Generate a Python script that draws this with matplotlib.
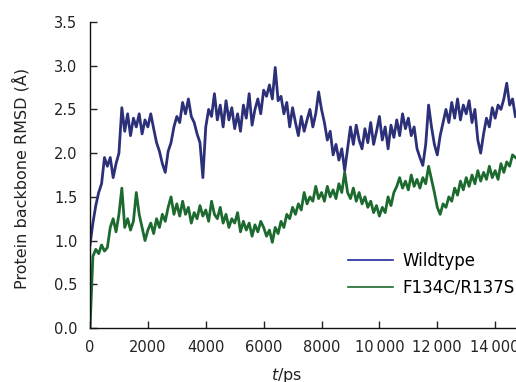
import numpy as np
import matplotlib
matplotlib.use("Agg")
import matplotlib.pyplot as plt

# time axis (ps), one sample every 100 ps
time_ps = list(range(0, 14800, 100))

wildtype = [
    0.95, 1.20, 1.40, 1.55, 1.65, 1.95, 1.85, 1.95, 1.72, 1.88,
    2.00, 2.52, 2.25, 2.45, 2.20, 2.40, 2.30, 2.45, 2.22, 2.38,
    2.30, 2.45, 2.28, 2.12, 2.02, 1.88, 1.78, 2.02, 2.12, 2.30,
    2.42, 2.35, 2.58, 2.45, 2.62, 2.42, 2.35, 2.22, 2.12, 1.72,
    2.30, 2.50, 2.42, 2.68, 2.38, 2.55, 2.30, 2.60, 2.38, 2.52,
    2.28, 2.45, 2.25, 2.55, 2.40, 2.68, 2.32, 2.50, 2.62, 2.45,
    2.72, 2.65, 2.78, 2.62, 2.98, 2.60, 2.65, 2.45, 2.58, 2.30,
    2.52, 2.35, 2.20, 2.42, 2.25, 2.38, 2.50, 2.30, 2.45, 2.70,
    2.50, 2.35, 2.15, 2.25, 1.98, 2.10, 1.92, 2.05, 1.80, 2.05,
    2.30, 2.10, 2.32, 2.15, 2.05, 2.28, 2.12, 2.35, 2.10, 2.25,
    2.42, 2.15, 2.30, 2.05, 2.32, 2.18, 2.38, 2.20, 2.45, 2.28,
    2.40, 2.20, 2.30, 2.05, 1.95, 1.86, 2.10, 2.55, 2.30, 2.10,
    1.98, 2.20, 2.35, 2.50, 2.35, 2.58, 2.40, 2.62, 2.38, 2.55,
    2.45, 2.60, 2.35, 2.50, 2.15, 2.00, 2.22, 2.40, 2.30, 2.52,
    2.40, 2.55, 2.50, 2.62, 2.80, 2.55, 2.62, 2.42,
]

mutant = [
    0.00, 0.82, 0.90, 0.85, 0.95, 0.88, 0.92, 1.15, 1.25, 1.10,
    1.30, 1.60, 1.15, 1.25, 1.12, 1.22, 1.55, 1.30, 1.15, 1.00,
    1.12, 1.20, 1.08, 1.25, 1.15, 1.30, 1.22, 1.38, 1.50, 1.30,
    1.42, 1.28, 1.45, 1.30, 1.38, 1.20, 1.32, 1.25, 1.40, 1.28,
    1.35, 1.22, 1.45, 1.30, 1.25, 1.38, 1.20, 1.30, 1.15, 1.25,
    1.20, 1.32, 1.10, 1.22, 1.12, 1.20, 1.05, 1.18, 1.10, 1.22,
    1.15, 1.05, 1.12, 0.98, 1.15, 1.08, 1.22, 1.15, 1.30, 1.25,
    1.38, 1.30, 1.42, 1.35, 1.55, 1.42, 1.50, 1.45, 1.62, 1.48,
    1.55, 1.45, 1.62, 1.50, 1.58, 1.48, 1.65, 1.55, 1.78, 1.55,
    1.48, 1.60, 1.45, 1.55, 1.42, 1.50, 1.38, 1.45, 1.32, 1.40,
    1.28, 1.38, 1.32, 1.50, 1.40, 1.55, 1.62, 1.72, 1.60, 1.68,
    1.58, 1.75, 1.62, 1.70, 1.60, 1.72, 1.65, 1.85, 1.70, 1.55,
    1.38, 1.30, 1.42, 1.38, 1.50, 1.45, 1.60, 1.52, 1.68, 1.58,
    1.72, 1.62, 1.75, 1.65, 1.80, 1.68, 1.78, 1.70, 1.85, 1.72,
    1.80, 1.70, 1.88, 1.78, 1.90, 1.85, 1.98, 1.95,
]

series_labels = ["Wildtype", "F134C/R137S"]
x_ticks = [0, 2000, 4000, 6000, 8000, 10000, 12000, 14000]
x_tick_labels = ["0", "2000", "4000", "6000", "8000", "10\u2009000", "12\u2009000", "14\u2009000"]
y_ticks = [0.0, 0.5, 1.0, 1.5, 2.0, 2.5, 3.0, 3.5]
y_tick_labels = ["0.0", "0.5", "1.0", "1.5", "2.0", "2.5", "3.0", "3.5"]

fig = plt.figure(figsize=(5.16, 3.82), dpi=100)
ax = fig.add_axes([90 / 516, (382 - 328) / 382, 426 / 516, 306 / 382])

ax.plot(time_ps, wildtype, color="#2c3078", lw=2.0, label=series_labels[0])
ax.plot(time_ps, mutant, color="#1d6a2f", lw=2.0, label=series_labels[1])

ax.set_xlim(0, 14720)
ax.set_ylim(0, 3.5)
ax.set_xticks(x_ticks)
ax.set_xticklabels(x_tick_labels)
ax.set_yticks(y_ticks)
ax.set_yticklabels(y_tick_labels)
ax.tick_params(direction="in", length=5, width=1, labelsize=10.5, pad=9, colors="#222222")
for s in ["top", "right"]:
    ax.spines[s].set_visible(False)
for s in ["left", "bottom"]:
    ax.spines[s].set_linewidth(1.0)
    ax.spines[s].set_color("#111111")

ax.set_ylabel("Protein backbone RMSD (\u00c5)", fontsize=11.5, color="#222222")
ax.yaxis.set_label_coords(-0.142, 0.49)
ax.set_xlabel(r"$t$/ps", fontsize=11.5, color="#222222")
ax.xaxis.set_label_coords(0.462, -0.125)

leg = ax.legend(loc="upper left", bbox_to_anchor=(0.605, 0.25), frameon=False,
                fontsize=12, handlelength=2.7, handletextpad=0.6,
                labelspacing=0.55, borderaxespad=0, borderpad=0)
leg.get_lines()[0].set_color("#1f2a9c")
leg.get_lines()[0].set_linewidth(1.2)
leg.get_lines()[1].set_color("#1d6a2f")
leg.get_lines()[1].set_linewidth(1.2)

fig.savefig("out.png", dpi=100)
